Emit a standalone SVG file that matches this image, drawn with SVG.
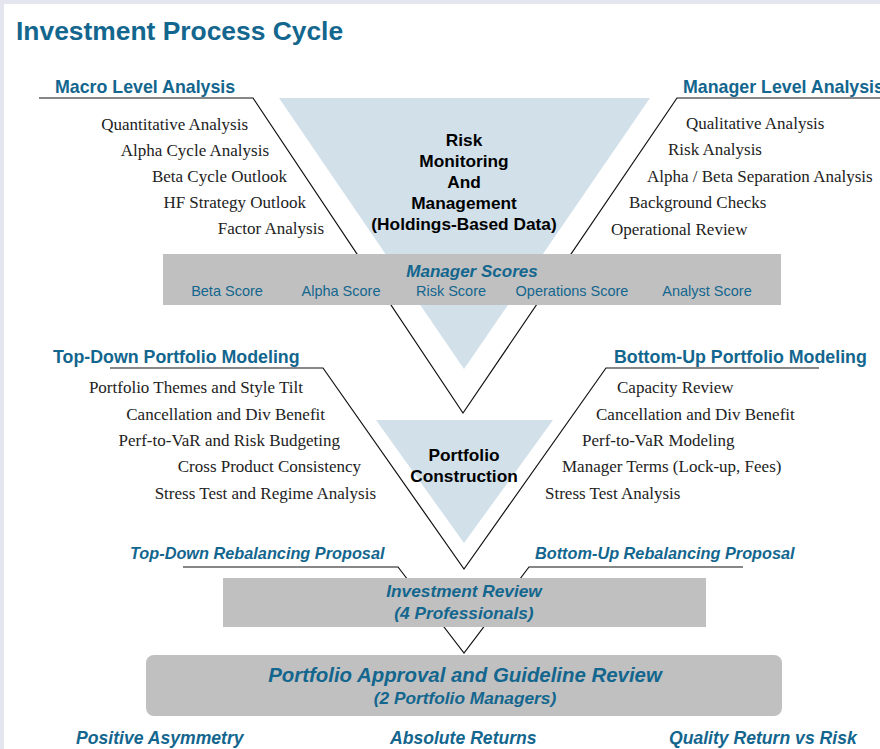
<svg xmlns="http://www.w3.org/2000/svg" width="880" height="749" viewBox="0 0 880 749">
<style>
.tri{fill:#d2e0ea}
.ln{fill:none;stroke:#111;stroke-width:1.2}
.box{fill:#c0c0c0}
.hd{font-family:"Liberation Sans",Arial,sans-serif;font-weight:bold;font-size:17.8px;fill:#13668e}
.it{font-family:"Liberation Serif","Times New Roman",serif;font-size:17px;fill:#222}
.ctr{font-family:"Liberation Sans",Arial,sans-serif;font-weight:bold;font-size:17.3px;fill:#000;text-anchor:middle}
.bi{font-family:"Liberation Sans",Arial,sans-serif;font-weight:bold;font-style:italic;fill:#13668e}
.sc{font-family:"Liberation Sans",Arial,sans-serif;font-size:14.5px;fill:#13668e;text-anchor:middle}
</style>
<rect x="0" y="0" width="880" height="749" fill="#e5e5f0"/>
<rect x="4" y="4" width="876" height="745" fill="#ffffff"/>
<text x="16" y="40" font-family="Liberation Sans,Arial,sans-serif" font-weight="bold" font-size="26.4px" fill="#13668e">Investment Process Cycle</text>

<g id="risk-monitoring">
<polygon class="tri" points="279,98 650,98 464,369"/>
<text class="ctr" x="464" y="146">Risk</text>
<text class="ctr" x="464" y="167">Monitoring</text>
<text class="ctr" x="464" y="188">And</text>
<text class="ctr" x="464" y="209">Management</text>
<text class="ctr" x="464" y="230">(Holdings-Based Data)</text>
</g>
<g id="portfolio-construction">
<polygon class="tri" points="376,420 553,420 464,543"/>
<text class="ctr" x="464" y="461">Portfolio</text>
<text class="ctr" x="464" y="482">Construction</text>
</g>

<g id="connectors">
<polyline class="ln" points="39,98 253,98 463,413 677,98 880,98"/>
<polyline class="ln" points="110,368 323,368 464,569 606,368 819,368"/>
<polyline class="ln" points="183,567 398,567 464,653 529,567 743,567"/>
</g>

<g id="macro-level">
<text class="hd" x="55" y="93">Macro Level Analysis</text>
<g class="it" text-anchor="end">
<text x="248" y="130">Quantitative Analysis</text>
<text x="269" y="156">Alpha Cycle Analysis</text>
<text x="287" y="182">Beta Cycle Outlook</text>
<text x="306" y="208">HF Strategy Outlook</text>
<text x="324" y="234">Factor Analysis</text>
</g>
</g>
<g id="manager-level">
<text class="hd" x="683" y="93">Manager Level Analysis</text>
<g class="it">
<text x="686" y="129">Qualitative Analysis</text>
<text x="668" y="155">Risk Analysis</text>
<text x="647" y="182">Alpha / Beta Separation Analysis</text>
<text x="629" y="208">Background Checks</text>
<text x="611" y="235">Operational Review</text>
</g>
</g>

<g id="manager-scores">
<rect class="box" x="163" y="254" width="618" height="51"/>
<text class="bi" x="472" y="277" font-size="17px" text-anchor="middle">Manager Scores</text>
<text class="sc" x="227" y="296">Beta Score</text>
<text class="sc" x="341" y="296">Alpha Score</text>
<text class="sc" x="451" y="296">Risk Score</text>
<text class="sc" x="572" y="296">Operations Score</text>
<text class="sc" x="707" y="296">Analyst Score</text>
</g>

<g id="top-down-modeling">
<text class="hd" x="53" y="363">Top-Down Portfolio Modeling</text>
<g class="it" text-anchor="end">
<text x="303" y="393">Portfolio Themes and Style Tilt</text>
<text x="325" y="420">Cancellation and Div Benefit</text>
<text x="340" y="446">Perf-to-VaR and Risk Budgeting</text>
<text x="361" y="472">Cross Product Consistency</text>
<text x="376" y="499">Stress Test and Regime Analysis</text>
</g>
</g>
<g id="bottom-up-modeling">
<text class="hd" x="614" y="363">Bottom-Up Portfolio Modeling</text>
<g class="it">
<text x="617" y="393">Capacity Review</text>
<text x="596" y="420">Cancellation and Div Benefit</text>
<text x="582" y="446">Perf-to-VaR Modeling</text>
<text x="562" y="472">Manager Terms (Lock-up, Fees)</text>
<text x="545" y="499">Stress Test Analysis</text>
</g>
</g>

<g id="top-down-rebalancing">
<text class="bi" x="130" y="559" font-size="16.3px">Top-Down Rebalancing Proposal</text>
</g>
<g id="bottom-up-rebalancing">
<text class="bi" x="535" y="559" font-size="16.3px">Bottom-Up Rebalancing Proposal</text>
</g>

<g id="investment-review">
<rect class="box" x="223" y="578" width="483" height="49"/>
<text class="bi" x="464" y="597" font-size="17.3px" text-anchor="middle">Investment Review</text>
<text class="bi" x="464" y="619" font-size="17.3px" text-anchor="middle">(4 Professionals)</text>
</g>

<g id="portfolio-approval">
<rect class="box" x="146" y="655" width="636" height="61" rx="8" ry="8"/>
<text class="bi" x="465" y="682" font-size="20.4px" text-anchor="middle">Portfolio Approval and Guideline Review</text>
<text class="bi" x="465" y="704" font-size="17.3px" text-anchor="middle">(2 Portfolio Managers)</text>
</g>

<g id="outcomes">
<text class="bi" x="76" y="744" font-size="17.6px">Positive Asymmetry</text>
<text class="bi" x="390" y="744" font-size="17.6px">Absolute Returns</text>
<text class="bi" x="669" y="744" font-size="17.6px">Quality Return vs Risk</text>
</g>
</svg>
